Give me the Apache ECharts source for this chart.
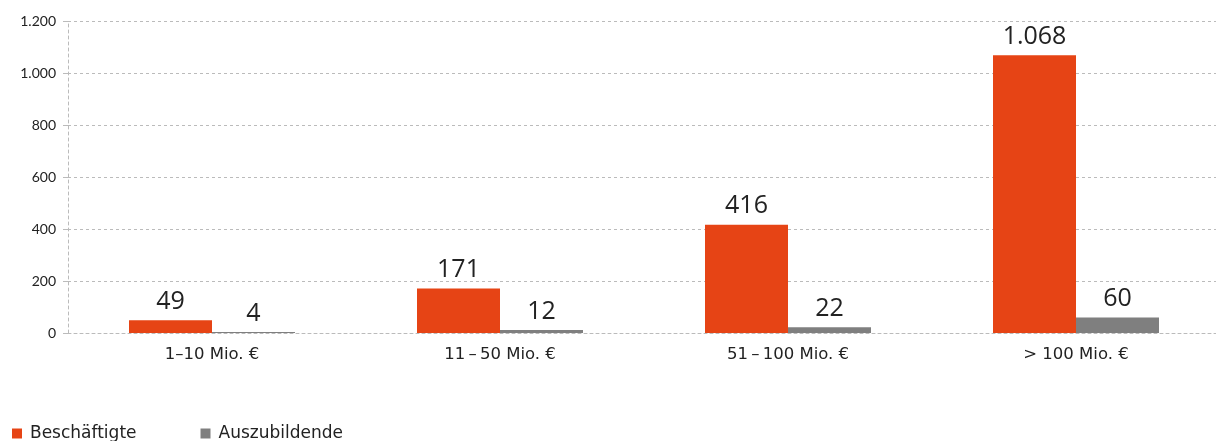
<!DOCTYPE html>
<html>
<head>
<meta charset="utf-8">
<script src="https://cdn.jsdelivr.net/npm/echarts@6/dist/echarts.min.js"></script>
<style>
  html, body { margin: 0; padding: 0; background: #fff; }
  #chart { width: 1216px; height: 441px; }
</style>
</head>
<body>
<div id="chart"></div>
<script>
// Umsatzklassen und Mitarbeiterzahlen
const categories = ['1\u201310 Mio. \u20ac', '11\u2009\u2013\u200950 Mio. \u20ac', '51\u2009\u2013\u2009100 Mio. \u20ac', '> 100 Mio. \u20ac'];
const beschaeftigte = [49, 171, 416, 1068];
const auszubildende = [4, 12, 22, 60];
const yTicks = [0, 200, 400, 600, 800, 1000, 1200];

const fmt = v => v.toLocaleString('de-DE');
const font = '"Open Sans", Lato, sans-serif';
const wide = '"DejaVu Sans", sans-serif';

const chart = echarts.init(document.getElementById('chart'));
chart.setOption({
  animation: false,
  textStyle: { fontFamily: font },
  grid: { left: 68, top: 21, width: 1152, height: 312, outerBoundsMode: 'none', containLabel: false },
  legend: {
    left: 7, bottom: -6,
    itemWidth: 10, itemHeight: 10, itemGap: 64,
    icon: 'rect',
    textStyle: { fontSize: 17, color: '#222', fontFamily: wide, padding: [0, 0, 0, 3] },
    data: ['Beschäftigte', 'Auszubildende']
  },
  xAxis: {
    type: 'category',
    data: categories,
    axisLine: { lineStyle: { color: '#bbb', type: [3, 3] } },
    axisTick: { length: 3, lineStyle: { color: '#bbb' } },
    axisLabel: { fontSize: 16.5, color: '#222', margin: 13, fontFamily: wide }
  },
  yAxis: {
    type: 'value',
    min: yTicks[0], max: yTicks[yTicks.length - 1], interval: 200,
    axisLine: { show: true, lineStyle: { color: '#bbb', type: [3, 3] } },
    axisTick: { show: true, length: 5, lineStyle: { color: '#bbb' } },
    splitLine: { lineStyle: { color: '#bbb', type: [3, 3] } },
    axisLabel: { fontSize: 14, color: '#222', margin: 12, formatter: fmt, fontFamily: 'Lato, sans-serif' }
  },
  series: [
    {
      name: 'Beschäftigte', type: 'bar', data: beschaeftigte,
      barWidth: 83, barGap: '0%',
      itemStyle: { color: '#E64415' },
      label: { show: true, position: 'top', distance: 6, fontSize: 25, color: '#222', formatter: p => fmt(p.value), fontFamily: font }
    },
    {
      name: 'Auszubildende', type: 'bar', data: auszubildende,
      barWidth: 83,
      itemStyle: { color: '#7F7F7F' },
      label: { show: true, position: 'top', distance: 6, fontSize: 25, color: '#222', formatter: p => fmt(p.value), fontFamily: font }
    }
  ]
});
</script>
</body>
</html>
